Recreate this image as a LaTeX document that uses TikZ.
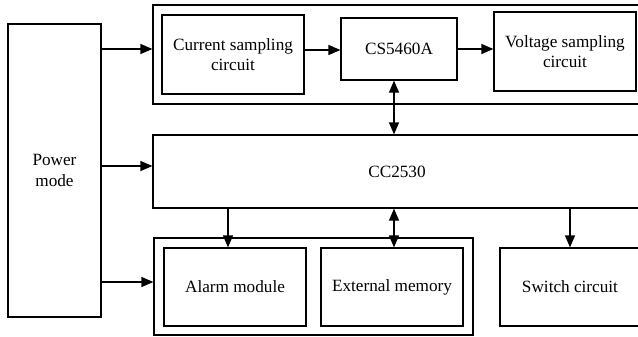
\documentclass[tikz,border=0pt]{standalone}
\usepackage{fontspec}
\setmainfont{Liberation Serif}
\usetikzlibrary{arrows.meta}
\begin{document}
\begin{tikzpicture}[x=0.5pt,y=-0.5pt,
  box/.style={draw,line width=0.6pt,inner sep=0pt,align=center,font=\fontsize{8.6}{10.3}\selectfont},
  arr/.style={line width=0.6pt,-{Triangle[length=6pt,width=5pt]}},
  darr/.style={line width=0.6pt,{Triangle[length=6pt,width=5pt]}-{Triangle[length=6pt,width=5pt]}}]
\useasboundingbox (0,0) rectangle (638,337);
\clip (0,0) rectangle (638,337);
\node[box,minimum width=46.5pt,minimum height=146.5pt] (power) at (54.5,170.5) {Power\\mode};
\node[box,minimum width=244pt,minimum height=49.5pt] (top) at (397,54.5) {};
\node[box,minimum width=71pt,minimum height=39.5pt] (cur) at (233,54.5) {Current sampling\\circuit};
\node[box,minimum width=58pt,minimum height=31pt] (cs) at (399,49) {CS5460A};
\node[box,minimum width=71pt,minimum height=39.5pt] (volt) at (565,51.5) {Voltage sampling\\circuit};
\node[box,minimum width=244pt,minimum height=36.5pt] (cc) at (397,171.5) {CC2530};
\node[box,minimum width=159.5pt,minimum height=48.5pt] (bot) at (313.5,286.5) {};
\node[box,minimum width=71pt,minimum height=39pt] (alarm) at (235,287) {Alarm module};
\node[box,minimum width=71pt,minimum height=39pt] (ext) at (392,287) {External memory};
\node[box,minimum width=70pt,minimum height=39pt] (sw) at (570,287) {Switch circuit};
\coordinate (y1) at (0,49);
\coordinate (y2) at (0,166);
\coordinate (y3) at (0,282);
\coordinate (y4) at (0,50);
\coordinate (bus) at (394,0);
\coordinate (al) at (228,0);
\draw[arr] (power.east |- y1) -- (top.west |- y1);
\draw[arr] (power.east |- y2) -- (cc.west |- y2);
\draw[arr] (power.east |- y3) -- (bot.west |- y3);
\draw[arr] (cur.east |- y4) -- (cs.west |- y4);
\draw[arr] (cs.east) -- (volt.west |- cs.east);
\draw[darr] (cs.south -| bus) -- (cc.north -| bus);
\draw[arr] (cc.south -| al) -- (alarm.north -| al);
\draw[darr] (cc.south -| bus) -- (ext.north -| bus);
\draw[arr] (cc.south -| sw) -- (sw.north);
\end{tikzpicture}
\end{document}
